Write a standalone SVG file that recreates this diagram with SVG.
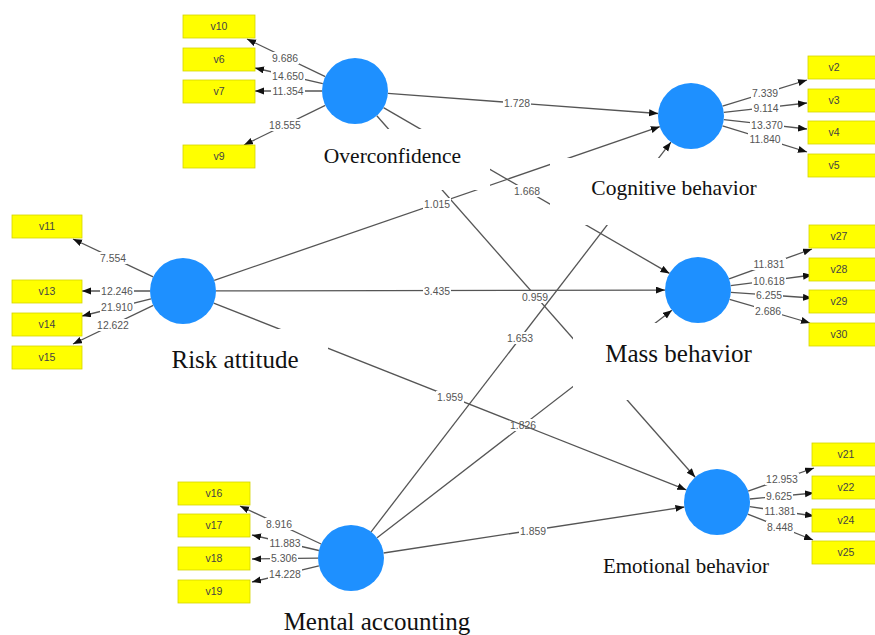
<svg xmlns="http://www.w3.org/2000/svg" width="875" height="635" viewBox="0 0 875 635">
<style>
.bg{fill:#ffffff}
.ln{stroke:#555555;stroke-width:1.3;fill:none}
.el rect{fill:#ffffff}
.el text{font-family:"Liberation Sans",Arial,sans-serif;font-size:10.4px;fill:#555555;text-anchor:middle}
.lv circle{fill:#1E90FF}
.cover{fill:#ffffff}
.lvt{font-family:"Liberation Serif","Times New Roman",serif;fill:#111111;text-anchor:middle}
.ind rect{fill:#FFFF00;stroke:#D4D400;stroke-width:0.8}
.ind text{font-family:"Liberation Sans",Arial,sans-serif;font-size:10.5px;fill:#444444;text-anchor:middle}
</style>
<defs>
<marker id="ah" markerUnits="userSpaceOnUse" markerWidth="10" markerHeight="8" refX="9" refY="3.5" orient="auto">
<path d="M0,0 L9,3.5 L0,7 z" fill="#111111"/>
</marker>
</defs>
<rect class="bg" x="0" y="0" width="875" height="635"/>

<g id="connectors">
<!-- outer model: Overconfidence -->
<line class="ln" x1="325.3" y1="76.7" x2="247" y2="39" marker-end="url(#ah)"/>
<line class="ln" x1="322.8" y1="83.6" x2="255" y2="68" marker-end="url(#ah)"/>
<line class="ln" x1="322" y1="91" x2="255" y2="91" marker-end="url(#ah)"/>
<line class="ln" x1="325.3" y1="105.4" x2="244" y2="145" marker-end="url(#ah)"/>
<!-- Cognitive -->
<line class="ln" x1="722.5" y1="106.2" x2="807" y2="80" marker-end="url(#ah)"/>
<line class="ln" x1="723.8" y1="112.3" x2="807" y2="103" marker-end="url(#ah)"/>
<line class="ln" x1="723.8" y1="119.7" x2="807" y2="129" marker-end="url(#ah)"/>
<line class="ln" x1="722.5" y1="125.8" x2="807" y2="152" marker-end="url(#ah)"/>
<!-- Risk -->
<line class="ln" x1="153.2" y1="276.9" x2="73" y2="239" marker-end="url(#ah)"/>
<line class="ln" x1="150" y1="291" x2="82" y2="291" marker-end="url(#ah)"/>
<line class="ln" x1="151" y1="298.9" x2="82" y2="316" marker-end="url(#ah)"/>
<line class="ln" x1="153.3" y1="305.3" x2="73" y2="344" marker-end="url(#ah)"/>
<!-- Mass -->
<line class="ln" x1="729.1" y1="278.8" x2="812" y2="249" marker-end="url(#ah)"/>
<line class="ln" x1="730.7" y1="285.7" x2="812" y2="275" marker-end="url(#ah)"/>
<line class="ln" x1="730.9" y1="292.3" x2="812" y2="298" marker-end="url(#ah)"/>
<line class="ln" x1="729.6" y1="299.3" x2="810" y2="323" marker-end="url(#ah)"/>
<!-- Mental -->
<line class="ln" x1="321.1" y1="544" x2="240" y2="506" marker-end="url(#ah)"/>
<line class="ln" x1="318.9" y1="550.5" x2="252" y2="535" marker-end="url(#ah)"/>
<line class="ln" x1="318" y1="558.1" x2="252" y2="559" marker-end="url(#ah)"/>
<line class="ln" x1="318.9" y1="565.8" x2="252" y2="582" marker-end="url(#ah)"/>
<!-- Emotional -->
<line class="ln" x1="748.1" y1="491.1" x2="814" y2="468" marker-end="url(#ah)"/>
<line class="ln" x1="749.9" y1="499" x2="814" y2="493" marker-end="url(#ah)"/>
<line class="ln" x1="749.7" y1="506.7" x2="814" y2="516" marker-end="url(#ah)"/>
<line class="ln" x1="747.7" y1="514.1" x2="813" y2="540" marker-end="url(#ah)"/>

<!-- loading labels -->
<g class="el"><rect x="271" y="52" width="28" height="12"/><text x="285" y="61.7">9.686</text></g>
<g class="el"><rect x="271" y="70" width="34" height="12"/><text x="288" y="79.7">14.650</text></g>
<g class="el"><rect x="271" y="85" width="34" height="12"/><text x="288" y="94.7">11.354</text></g>
<g class="el"><rect x="268" y="119" width="34" height="12"/><text x="285" y="128.7">18.555</text></g>
<g class="el"><rect x="751" y="87" width="28" height="12"/><text x="765" y="96.7">7.339</text></g>
<g class="el"><rect x="752" y="102" width="28" height="12"/><text x="766" y="111.7">9.114</text></g>
<g class="el"><rect x="750" y="119" width="34" height="12"/><text x="767" y="128.7">13.370</text></g>
<g class="el"><rect x="748" y="133" width="34" height="12"/><text x="765" y="142.7">11.840</text></g>
<g class="el"><rect x="99" y="252" width="28" height="12"/><text x="113" y="261.7">7.554</text></g>
<g class="el"><rect x="100" y="285" width="34" height="12"/><text x="117" y="294.7">12.246</text></g>
<g class="el"><rect x="100" y="301" width="34" height="12"/><text x="117" y="310.7">21.910</text></g>
<g class="el"><rect x="96" y="319" width="34" height="12"/><text x="113" y="328.7">12.622</text></g>
<g class="el"><rect x="752" y="258" width="34" height="12"/><text x="769" y="267.7">11.831</text></g>
<g class="el"><rect x="752" y="275" width="34" height="12"/><text x="769" y="284.7">10.618</text></g>
<g class="el"><rect x="755" y="289" width="28" height="12"/><text x="769" y="298.7">6.255</text></g>
<g class="el"><rect x="754" y="305" width="28" height="12"/><text x="768" y="314.7">2.686</text></g>
<g class="el"><rect x="265" y="518" width="28" height="12"/><text x="279" y="527.7">8.916</text></g>
<g class="el"><rect x="268" y="537" width="34" height="12"/><text x="285" y="546.7">11.883</text></g>
<g class="el"><rect x="270" y="552" width="28" height="12"/><text x="284" y="561.7">5.306</text></g>
<g class="el"><rect x="268" y="568" width="34" height="12"/><text x="285" y="577.7">14.228</text></g>
<g class="el"><rect x="765" y="473" width="34" height="12"/><text x="782" y="482.7">12.953</text></g>
<g class="el"><rect x="765" y="490" width="28" height="12"/><text x="779" y="499.7">9.625</text></g>
<g class="el"><rect x="763" y="505" width="34" height="12"/><text x="780" y="514.7">11.381</text></g>
<g class="el"><rect x="766" y="521" width="28" height="12"/><text x="780" y="530.7">8.448</text></g>

<!-- inner model -->
<line class="ln" x1="387.9" y1="93.4" x2="658.1" y2="113.5" marker-end="url(#ah)"/>
<g class="el"><rect x="503" y="97" width="28" height="12"/><text x="517" y="106.7">1.728</text></g>
<line class="ln" x1="383.5" y1="107.6" x2="669.5" y2="273.4" marker-end="url(#ah)"/>
<g class="el"><rect x="513" y="185" width="28" height="12"/><text x="527" y="194.7">1.668</text></g>
<line class="ln" x1="376.8" y1="115.8" x2="695.2" y2="477.2" marker-end="url(#ah)"/>
<g class="el"><rect x="521" y="291" width="28" height="12"/><text x="535" y="300.7">0.959</text></g>
<line class="ln" x1="214.2" y1="280.3" x2="659.8" y2="126.7" marker-end="url(#ah)"/>
<g class="el"><rect x="423" y="198" width="28" height="12"/><text x="437" y="207.7">1.015</text></g>
<line class="ln" x1="216" y1="290.9" x2="665" y2="290.1" marker-end="url(#ah)"/>
<g class="el"><rect x="423" y="285" width="28" height="12"/><text x="437" y="294.7">3.435</text></g>
<line class="ln" x1="371.1" y1="531.8" x2="670.9" y2="142.2" marker-end="url(#ah)"/>
<g class="el"><rect x="506" y="332" width="28" height="12"/><text x="520" y="341.7">1.653</text></g>
<line class="ln" x1="377.1" y1="537.8" x2="671.9" y2="310.2" marker-end="url(#ah)"/>
<g class="el"><rect x="509" y="419" width="28" height="12"/><text x="523" y="428.7">1.826</text></g>
<line class="ln" x1="213.7" y1="303.1" x2="686.3" y2="489.9" marker-end="url(#ah)"/>
<g class="el"><rect x="436" y="391" width="28" height="12"/><text x="450" y="400.7">1.959</text></g>
<line class="ln" x1="383.6" y1="553" x2="684.4" y2="507" marker-end="url(#ah)"/>
<g class="el"><rect x="519" y="525" width="28" height="12"/><text x="533" y="534.7">1.859</text></g>
</g>

<g id="overconfidence" class="lv">
<rect class="cover" x="310" y="129" width="180" height="61"/>
<circle cx="355" cy="91" r="33"/>
<text class="lvt" x="392.5" y="163" font-size="21.5">Overconfidence</text>
</g>
<g id="cognitive-behavior" class="lv">
<rect class="cover" x="550" y="158" width="250" height="67"/>
<circle cx="691" cy="116" r="33"/>
<text class="lvt" x="674" y="195" font-size="21.5">Cognitive behavior</text>
</g>
<g id="risk-attitude" class="lv">
<rect class="cover" x="160" y="329" width="168" height="55"/>
<circle cx="183" cy="291" r="33"/>
<text class="lvt" x="235" y="368" font-size="25">Risk attitude</text>
</g>
<g id="mass-behavior" class="lv">
<rect class="cover" x="573" y="323" width="222" height="77"/>
<circle cx="698" cy="290" r="33"/>
<text class="lvt" x="678.5" y="362" font-size="25">Mass behavior</text>
</g>
<g id="mental-accounting" class="lv">
<circle cx="351" cy="558" r="33"/>
<text class="lvt" x="377" y="630" font-size="25">Mental accounting</text>
</g>
<g id="emotional-behavior" class="lv">
<circle cx="717" cy="502" r="33"/>
<text class="lvt" x="686" y="573" font-size="21">Emotional behavior</text>
</g>

<g id="v10" class="ind"><rect x="183" y="15" width="72" height="23"/><text x="219" y="30.2">v10</text></g>
<g id="v6" class="ind"><rect x="183" y="48" width="72" height="23"/><text x="219" y="63.2">v6</text></g>
<g id="v7" class="ind"><rect x="183" y="80" width="72" height="23"/><text x="219" y="95.2">v7</text></g>
<g id="v9" class="ind"><rect x="183" y="145" width="72" height="23"/><text x="219" y="160.2">v9</text></g>

<g id="v2" class="ind"><rect x="808" y="56" width="70" height="23"/><text x="834" y="71.2">v2</text></g>
<g id="v3" class="ind"><rect x="808" y="89" width="70" height="23"/><text x="834" y="104.2">v3</text></g>
<g id="v4" class="ind"><rect x="808" y="121" width="70" height="23"/><text x="834" y="136.2">v4</text></g>
<g id="v5" class="ind"><rect x="808" y="154" width="70" height="23"/><text x="834" y="169.2">v5</text></g>

<g id="v11" class="ind"><rect x="12" y="215" width="70" height="23"/><text x="47" y="230.2">v11</text></g>
<g id="v13" class="ind"><rect x="12" y="280" width="70" height="23"/><text x="47" y="295.2">v13</text></g>
<g id="v14" class="ind"><rect x="12" y="313" width="70" height="23"/><text x="47" y="328.2">v14</text></g>
<g id="v15" class="ind"><rect x="12" y="346" width="70" height="23"/><text x="47" y="361.2">v15</text></g>

<g id="v27" class="ind"><rect x="809" y="225" width="70" height="23"/><text x="839" y="240.2">v27</text></g>
<g id="v28" class="ind"><rect x="809" y="258" width="70" height="23"/><text x="839" y="273.2">v28</text></g>
<g id="v29" class="ind"><rect x="809" y="290" width="70" height="23"/><text x="839" y="305.2">v29</text></g>
<g id="v30" class="ind"><rect x="809" y="323" width="70" height="23"/><text x="839" y="338.2">v30</text></g>

<g id="v16" class="ind"><rect x="178" y="482" width="72" height="23"/><text x="214" y="497.2">v16</text></g>
<g id="v17" class="ind"><rect x="178" y="514" width="72" height="23"/><text x="214" y="529.2">v17</text></g>
<g id="v18" class="ind"><rect x="178" y="547" width="72" height="23"/><text x="214" y="562.2">v18</text></g>
<g id="v19" class="ind"><rect x="178" y="580" width="72" height="23"/><text x="214" y="595.2">v19</text></g>

<g id="v21" class="ind"><rect x="812" y="443" width="70" height="23"/><text x="846" y="458.2">v21</text></g>
<g id="v22" class="ind"><rect x="812" y="476" width="70" height="23"/><text x="846" y="491.2">v22</text></g>
<g id="v24" class="ind"><rect x="812" y="509" width="70" height="23"/><text x="846" y="524.2">v24</text></g>
<g id="v25" class="ind"><rect x="812" y="541" width="70" height="23"/><text x="846" y="556.2">v25</text></g>
</svg>
